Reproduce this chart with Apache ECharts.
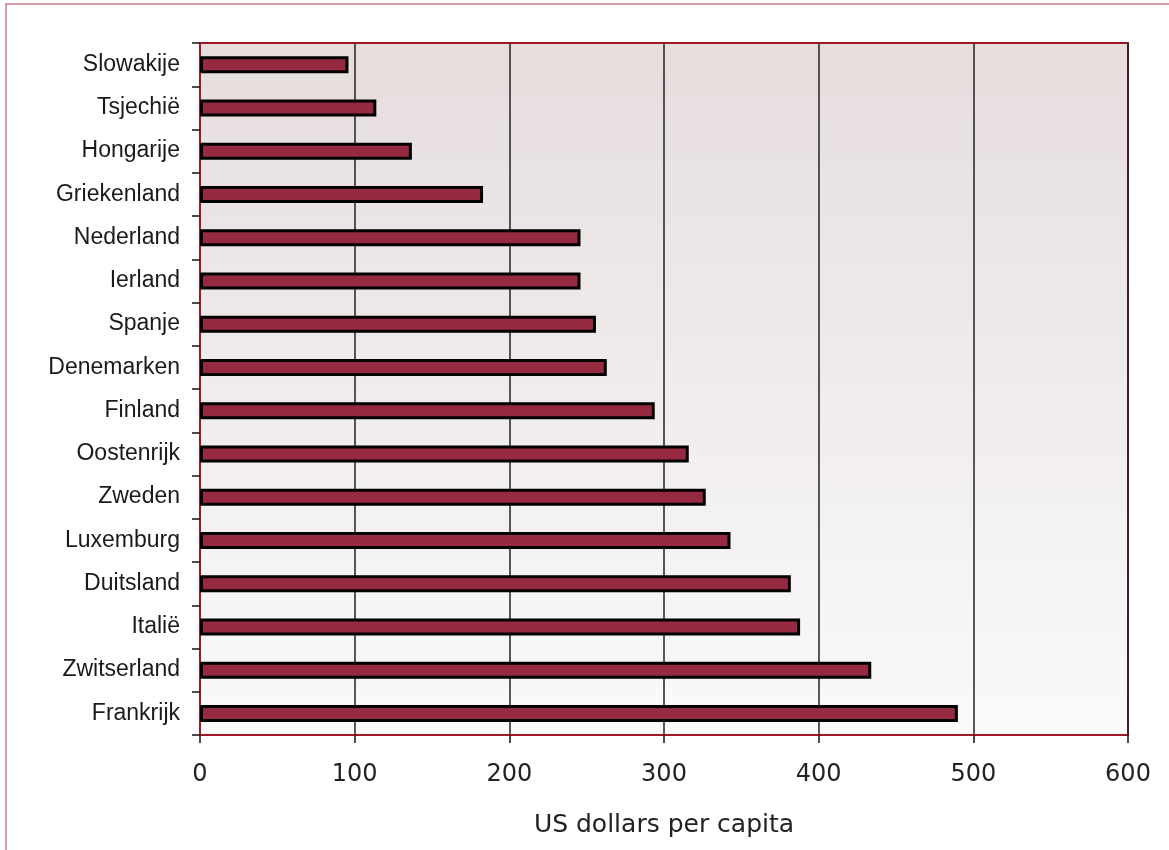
<!DOCTYPE html>
<html>
<head>
<meta charset="utf-8">
<script src="https://cdn.jsdelivr.net/npm/echarts@6/dist/echarts.min.js"></script>
<style>
  html, body { margin: 0; padding: 0; background: #fff; }
  #chart { width: 1169px; height: 850px; }
</style>
</head>
<body>
<div id="chart"></div>
<script>
// countries, top to bottom
var countries = ['Slowakije', 'Tsjechië', 'Hongarije', 'Griekenland', 'Nederland', 'Ierland',
  'Spanje', 'Denemarken', 'Finland', 'Oostenrijk', 'Zweden', 'Luxemburg', 'Duitsland',
  'Italië', 'Zwitserland', 'Frankrijk'];
var dollarsPerCapita = [96, 114, 137, 183, 246, 246, 256, 263, 294, 316, 327, 343, 382, 388, 434, 490];
var xTicks = [0, 100, 200, 300, 400, 500, 600];

var chart = echarts.init(document.getElementById('chart'));

var option = {
  animation: false,
  backgroundColor: '#ffffff',
  graphic: [
    // thin outer frame of the original figure
    { type: 'line', shape: { x1: 5, y1: 4, x2: 1169, y2: 4 }, style: { stroke: '#c7808a', lineWidth: 1.5 } },
    { type: 'line', shape: { x1: 6, y1: 4, x2: 6, y2: 850 }, style: { stroke: '#c7808a', lineWidth: 1.5 } }
  ],
  grid: {
    left: 200,
    right: 41,
    top: 43,
    bottom: 115,
    show: true,
    borderColor: '#a01828',
    borderWidth: 2,
    backgroundColor: {
      type: 'linear', x: 0, y: 0, x2: 0, y2: 1,
      colorStops: [
        { offset: 0, color: '#e6dddd' },
        { offset: 1, color: '#fafafb' }
      ]
    }
  },
  xAxis: {
    type: 'value',
    min: xTicks[0],
    max: xTicks[xTicks.length - 1],
    interval: 100,
    name: 'US dollars per capita',
    nameLocation: 'middle',
    nameGap: 78,
    nameTextStyle: {
      fontFamily: 'DejaVu Sans',
      fontSize: 25,
      color: '#222'
    },
    axisLine: { show: true, lineStyle: { color: '#a01828', width: 2 } },
    axisTick: { show: true, length: 8, lineStyle: { color: '#111', width: 1.5 } },
    axisLabel: {
      margin: 28,
      fontFamily: 'DejaVu Sans',
      fontSize: 24,
      color: '#222'
    },
    splitLine: { show: true, lineStyle: { color: '#222', width: 1.5 } }
  },
  yAxis: {
    type: 'category',
    data: countries,
    inverse: true,
    axisLine: { show: true, lineStyle: { color: '#a01828', width: 2 } },
    axisTick: { show: true, length: 8, lineStyle: { color: '#111', width: 1.5 } },
    axisLabel: {
      margin: 20,
      fontFamily: 'Liberation Sans',
      fontSize: 23,
      color: '#1a1a1a',
      padding: [10, 0, 0, 0]
    },
    splitLine: { show: false }
  },
  series: [
    {
      type: 'bar',
      data: dollarsPerCapita,
      barWidth: 17,
      itemStyle: {
        color: '#952a40',
        borderColor: '#000',
        borderWidth: 3
      }
    }
  ]
};

chart.setOption(option);
</script>
</body>
</html>
